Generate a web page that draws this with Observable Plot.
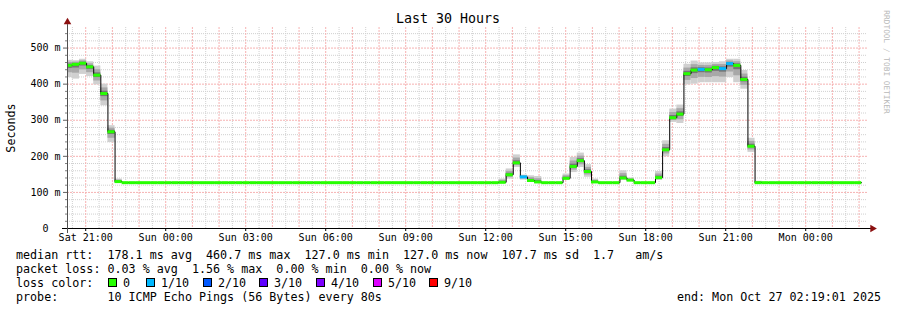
<!DOCTYPE html>
<html><head><meta charset="utf-8">
<script src="https://cdn.jsdelivr.net/npm/d3@7"></script>
<script src="https://cdn.jsdelivr.net/npm/@observablehq/plot@0.6"></script>
<style>
body{margin:0;background:#fff;}
#wrap{position:relative;width:897px;height:310px;overflow:hidden;font-family:"DejaVu Sans Mono",monospace;color:#000;background:#fff;}
#wrap svg{position:absolute;left:0;top:0;}
.t{position:absolute;white-space:pre;font-size:11.7px;line-height:14px;}
.box{position:absolute;width:7px;height:7px;border:1px solid #000;}
</style></head><body><div id="wrap"></div>
<script>
// ---- time frame (hours since Sat 00:00) ----
const startHour = 20 + 19/60 + 1/60/60;   // Sat 20:19:01
const spanHours = 30;
const firstStepHour = 20 + 14/60;          // RRD step boundary before start
const stepMinutes = 16;

// ---- median RTT per 16-min step (ms) ----
const median = [
  452,455,458,448,425,374,268,130,
  127,127,127,127,127,127,127,127,127,127,127,127,127,127,127,127,127,127,127,127,127,127,127,127,127,127,127,127,127,127,127,127,127,127,127,127,127,127,127,127,127,127,127,127,127,127,127,127,127,127,127,127,127,
  128,149,182,143,133,129,
  127,127,127,
  139,172,188,158,129,
  127,127,127,
  140,134,
  127,127,127,
  141,218,307,317,429,439,441,440,446,443,457,452,413,228,
  127,127,127,127,127,127,127,127,127,127,127,127,127,127,127
];
// ---- smoke (spread of the 10 pings) low / high per step (ms) ----
const smokeLo = [
  418,414,427,421,398,340,238,125,
  127,127,127,127,127,127,127,127,127,127,127,127,127,127,127,127,127,127,127,127,127,127,127,127,127,127,127,127,127,127,127,127,127,127,127,127,127,127,127,127,127,127,127,127,127,127,127,127,127,127,127,127,127,
  127,137,169,134,128,125,
  127,127,127,
  134,155,169,142,125,
  127,127,127,
  133,130,
  127,127,127,
  133,199,294,291,398,400,404,404,404,404,418,404,386,211,
  125,127,127,127,127,127,127,127,127,127,127,127,127,127,127
];
const smokeHi = [
  466,465,469,462,450,400,285,137,
  127,127,127,127,127,127,127,127,127,127,127,127,127,127,127,127,127,127,127,127,127,127,127,127,127,127,127,127,127,127,127,127,127,127,127,127,127,127,127,127,127,127,127,127,127,127,127,127,127,127,127,127,127,
  137,165,204,148,146,144,
  127,127,127,
  151,197,209,177,137,
  127,127,127,
  160,140,
  127,127,127,
  158,243,331,342,455,464,459,459,460,462,469,469,438,250,
  131,127,127,127,127,127,127,127,127,127,127,127,127,127,127
];
// ---- loss per step (index into lossColors) ----
const loss = median.map(() => 0);
const lossSteps = [64, 89, 92, 93];   // steps with 1/10 loss
lossSteps.forEach(k => loss[k] = 1);

const lossColors = ["#26ff00","#00b8ff","#0059ff","#5e00ff","#7e00ff","#dd00ff","#ff0000"];
const lossLabels = ["0","1/10","2/10","3/10","4/10","5/10","9/10"];

// ---- ticks ----
const xTickHours  = [21,24,27,30,33,36,39,42,45,48];
const xTickLabels = ["Sat 21:00","Sun 00:00","Sun 03:00","Sun 06:00","Sun 09:00","Sun 12:00","Sun 15:00","Sun 18:00","Sun 21:00","Mon 00:00"];
const yTickValues = [0,100,200,300,400,500];
const yTickLabels = ["0\u00a0\u00a0","100 m","200 m","300 m","400 m","500 m"];
const yMax = 557;

// ---- legend texts ----
const title = "Last 30 Hours";
const yLabel = "Seconds";
const legendRows = [
  "median rtt:  178.1 ms avg  460.7 ms max  127.0 ms min  127.0 ms now  107.7 ms sd  1.7   am/s",
  "packet loss: 0.03 % avg  1.56 % max  0.00 % min  0.00 % now",
  "loss color:",
  "probe:       10 ICMP Echo Pings (56 Bytes) every 80s"
];
const endText = "end: Mon Oct 27 02:19:01 2025";
const watermark = "RRDTOOL / TOBI OETIKER";

// ---- build ----
const endHour = startHour + spanHours;
const stepH = stepMinutes / 60;
const steps = median.map((m, k) => ({
  t0: firstStepHour + k * stepH,
  t1: firstStepHour + (k + 1) * stepH,
  med: m, lo: smokeLo[k], hi: smokeHi[k], loss: loss[k]
}));
const smoke = steps.filter(s => s.hi > s.lo);
const linePts = steps.map(s => ({t: s.t0, v: s.med}));
linePts.push({t: steps[steps.length - 1].t1, v: steps[steps.length - 1].med});

const minorX = d3.range(Math.ceil(startHour * 2) / 2, endHour, 0.5).filter(h => h % 1 !== 0);
const majorX = d3.range(Math.ceil(startHour), endHour, 1);
const minorY = d3.range(20, yMax, 20).filter(v => v % 100 !== 0);
const majorY = d3.range(100, yMax, 100);
const xLab = new Map(xTickHours.map((h, i) => [h, xTickLabels[i]]));
const yLab = new Map(yTickValues.map((v, i) => [v, yTickLabels[i]]));

const pxPerHour = 800 / spanHours;
const chart = Plot.plot({
  width: 897, height: 250,
  marginLeft: 67, marginRight: 30, marginTop: 27, marginBottom: 22,
  style: {fontFamily: "DejaVu Sans Mono", fontSize: "10px", background: "transparent", overflow: "visible"},
  x: {domain: [startHour, endHour]},
  y: {domain: [0, yMax]},
  color: {type: "identity"},
  marks: [
    Plot.ruleX(minorX, {stroke: "#d0d0d0", strokeDasharray: "1,1"}),
    Plot.ruleY(minorY, {stroke: "#d0d0d0", strokeDasharray: "1,1"}),
    Plot.ruleX(majorX, {stroke: "#f6b2b2", strokeDasharray: "2,1"}),
    Plot.ruleY(majorY, {stroke: "#f6b2b2", strokeDasharray: "2,1"}),
    Plot.rectY(smoke, {x1: "t0", x2: "t1", y1: "lo", y2: "hi", fill: "#d0d0d0", clip: true}),
    Plot.rectY(smoke, {x1: "t0", x2: "t1", y1: d => d.med - (d.med - d.lo) * 0.6, y2: d => d.med + (d.hi - d.med) * 0.6, fill: "#a8a8a8", clip: true}),
    Plot.rectY(smoke, {x1: "t0", x2: "t1", y1: d => d.med - (d.med - d.lo) * 0.25, y2: d => d.med + (d.hi - d.med) * 0.25, fill: "#747474", clip: true}),
    Plot.line(linePts, {x: "t", y: "v", curve: "step-after", stroke: "#000", strokeWidth: 1, clip: true}),
    Plot.ruleY(steps, {y: "med", x1: "t0", x2: "t1", stroke: d => lossColors[d.loss], strokeWidth: 3, clip: true}),
    // minor y ticks
    Plot.ruleY(minorY, {x1: startHour - 2 / pxPerHour, x2: startHour, stroke: "#808080"}),
    Plot.axisY(yTickValues, {tickFormat: d => yLab.get(d), tickSize: 4, tickPadding: 3, fontSize: 10, stroke: "#606060"}),
    Plot.axisX(xTickHours, {tickFormat: d => xLab.get(d), tickSize: 3, tickPadding: 2, fontSize: 10, label: null}),
    Plot.ruleY([0], {x1: startHour - 5 / pxPerHour, x2: endHour + 4 / pxPerHour, stroke: "#000"}),
    Plot.ruleX([startHour], {y1: -14, y2: 565, stroke: "#505050"}),
    Plot.dot([{x: startHour, y: 572}], {x: "x", y: "y", symbol: "triangle", r: 2.8, fill: "#8b1010", stroke: "none"}),
    Plot.dot([{x: endHour + 5 / pxPerHour, y: 0}], {x: "x", y: "y", symbol: "triangle", r: 2.8, rotate: 90, fill: "#8b1010", stroke: "none"})
  ]
});
const wrap = document.getElementById("wrap");
wrap.appendChild(chart);

function addText(txt, left, top, extra) {
  const d = document.createElement("div");
  d.className = "t";
  d.textContent = txt;
  d.style.left = left + "px";
  d.style.top = top + "px";
  if (extra) Object.assign(d.style, extra);
  wrap.appendChild(d);
  return d;
}
addText(title, 448, 11, {fontSize: "13.3px", lineHeight: "16px", transform: "translateX(-50%)"});
addText(yLabel, 11, 128, {transform: "translate(-50%,-50%) rotate(-90deg)"});
addText(watermark, 886, 62, {fontSize: "7.8px", lineHeight: "9px", color: "#b8b8b8", transform: "translate(-50%,-50%) rotate(90deg)"});
const rowTops = [248, 262, 276, 290];
legendRows.forEach((r, i) => addText(r, 16, rowTops[i]));
addText(endText, 881, rowTops[3], {transform: "translateX(-100%)"});
const boxLefts = [108, 146, 203, 259, 316, 373, 429];
lossColors.forEach((c, i) => {
  const b = document.createElement("div");
  b.className = "box";
  b.style.left = boxLefts[i] + "px";
  b.style.top = "278px";
  b.style.background = c;
  wrap.appendChild(b);
  addText(lossLabels[i], boxLefts[i] + 15, rowTops[2]);
});
</script></body></html>
